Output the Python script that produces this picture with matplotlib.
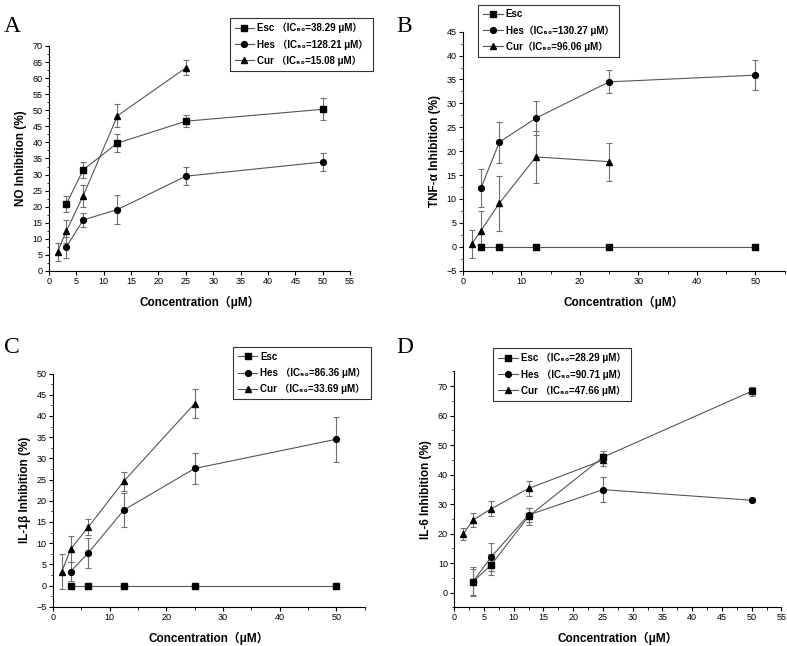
import numpy as np
import matplotlib
matplotlib.use('Agg')
import matplotlib.pyplot as plt
from matplotlib.ticker import MultipleLocator

plt.rcParams['font.family'] = ['Liberation Sans', 'Noto Sans CJK SC', 'DejaVu Sans']

# concentrations (uM)
conc = [3.125, 6.25, 12.5, 25, 50]
conc_cur = [1.5625, 3.125, 6.25, 12.5, 25]

# A: NO inhibition
a_esc = [20.7, 31.5, 39.8, 46.6, 50.3]
a_esc_err = [2.5, 2.5, 2.9, 1.8, 3.4]
a_hes = [7.4, 15.9, 19.1, 29.5, 33.9]
a_hes_err = [3.3, 2.1, 4.6, 2.8, 2.9]
a_cur = [5.9, 12.3, 23.4, 48.3, 63.2]
a_cur_err = [2.7, 3.7, 3.4, 3.5, 2.3]

# B: TNF-a inhibition
b_esc = [0, 0, 0, 0, 0]
b_esc_err = [0, 0, 0, 0, 0]
b_hes = [12.3, 21.9, 26.9, 34.5, 35.9]
b_hes_err = [4.0, 4.3, 3.5, 2.4, 3.1]
b_cur = [0.6, 3.4, 9.1, 18.8, 17.8]
b_cur_err = [3.0, 4.1, 5.8, 5.4, 4.0]

# C: IL-1b inhibition
c_esc = [0, 0, 0, 0, 0]
c_esc_err = [0, 0, 0, 0, 0]
c_hes = [3.3, 7.7, 17.8, 27.6, 34.5]
c_hes_err = [2.2, 3.6, 4.1, 3.6, 5.3]
c_cur = [3.3, 8.6, 13.8, 24.6, 42.9]
c_cur_err = [4.2, 3.0, 1.8, 2.2, 3.4]

# D: IL-6 inhibition
d_esc = [3.6, 9.4, 25.8, 45.9, 68.3]
d_esc_err = [4.9, 3.5, 2.8, 2.0, 1.5]
d_hes = [3.6, 12.1, 26.3, 34.9, 31.3]
d_hes_err = [4.5, 4.7, 2.5, 4.2, 0.7]
d_cur = [19.9, 24.5, 28.4, 35.3, 44.9]
d_cur_err = [2.1, 2.4, 2.5, 2.6, 2.0]

sub = 'IC₅₀'
panels = [
    dict(letter='A', ylabel='NO Inhibition (%)',
         data=[(a_esc, a_esc_err), (a_hes, a_hes_err), (a_cur, a_cur_err)],
         labels=[f'Esc （{sub}=38.29 μM）', f'Hes （{sub}=128.21 μM）', f'Cur （{sub}=15.08 μM）'],
         rect=[0.0623, 0.5805, 0.3825, 0.3483], ylim=(0, 70), xmaj=5, xmin=None,
         ymaj=5, ymin=2.5, leg=(0.292, 0.972), letter_pos=(0.005, 0.975)),
    dict(letter='B', ylabel='TNF-α Inhibition (%)',
         data=[(b_esc, b_esc_err), (b_hes, b_hes_err), (b_cur, b_cur_err)],
         labels=['Esc', f'Hes（{sub}=130.27 μM）', f'Cur（{sub}=96.06 μM）'],
         rect=[0.588, 0.581, 0.409, 0.370], ylim=(-5, 45), xmaj=10, xmin=5,
         ymaj=5, ymin=2.5, leg=(0.608, 0.993), letter_pos=(0.503, 0.975)),
    dict(letter='C', ylabel='IL-1β Inhibition (%)',
         data=[(c_esc, c_esc_err), (c_hes, c_hes_err), (c_cur, c_cur_err)],
         labels=['Esc', f'Hes （{sub}=86.36 μM）', f'Cur （{sub}=33.69 μM）'],
         rect=[0.0673, 0.0608, 0.396, 0.361], ylim=(-5, 50), xmaj=10, xmin=5,
         ymaj=5, ymin=2.5, leg=(0.296, 0.463), letter_pos=(0.005, 0.478)),
    dict(letter='D', ylabel='IL-6 Inhibition (%)',
         data=[(d_esc, d_esc_err), (d_hes, d_hes_err), (d_cur, d_cur_err)],
         labels=[f'Esc （{sub}=28.29 μM）', f'Hes （{sub}=90.71 μM）', f'Cur （{sub}=47.66 μM）'],
         rect=[0.577, 0.060, 0.416, 0.365], ylim=(-5, 75), xmaj=5, xmin=2.5,
         ymaj=10, ymin=5, leg=(0.627, 0.461), letter_pos=(0.503, 0.478)),
]

markers = ['s', 'o', '^']
xs = [conc, conc, conc_cur]

fig = plt.figure(figsize=(7.87, 6.46), dpi=100)

for p in panels:
    ax = fig.add_axes(p['rect'])
    handles = []
    for (y, err), m, x, lab in zip(p['data'], markers, xs, p['labels']):
        ax.errorbar(x, y, yerr=err, fmt='none', ecolor='#707070',
                    elinewidth=0.8, capsize=2, capthick=0.8, zorder=2)
        h, = ax.plot(x, y, color='#555555', lw=0.8, marker=m, ms=4.2,
                     mfc='black', mec='black', label=lab, zorder=3)
        handles.append(h)

    ax.set_xlim(0, 55)
    ax.set_ylim(*p['ylim'])
    ax.xaxis.set_major_locator(MultipleLocator(p['xmaj']))
    if p['xmin']:
        ax.xaxis.set_minor_locator(MultipleLocator(p['xmin']))
    ax.yaxis.set_major_locator(MultipleLocator(p['ymaj']))
    ax.yaxis.set_minor_locator(MultipleLocator(p['ymin']))
    ax.tick_params(which='major', direction='out', length=3, width=0.8,
                   labelsize=6.5, pad=1.5)
    ax.tick_params(which='minor', direction='out', length=1.8, width=0.6)
    for s in ['top', 'right']:
        ax.spines[s].set_visible(False)
    for s in ['left', 'bottom']:
        ax.spines[s].set_linewidth(0.8)

    ax.set_xlabel('Concentration（μM）', fontsize=8.5, fontweight='bold', labelpad=7)
    ax.set_ylabel(p['ylabel'], fontsize=8.5, fontweight='bold', labelpad=4)

    leg = fig.legend(handles=handles, loc='upper left', bbox_to_anchor=p['leg'],
                     frameon=True, fancybox=False, edgecolor='black',
                     prop={'size': 7, 'weight': 'bold'}, handlelength=2.0,
                     handletextpad=0.3, borderpad=0.5, labelspacing=0.6,
                     borderaxespad=0)
    leg.get_frame().set_linewidth(0.8)

    fig.text(p['letter_pos'][0], p['letter_pos'][1], p['letter'],
             fontsize=17, family='Liberation Serif', va='top', ha='left')

fig.savefig('out.png', dpi=100)
